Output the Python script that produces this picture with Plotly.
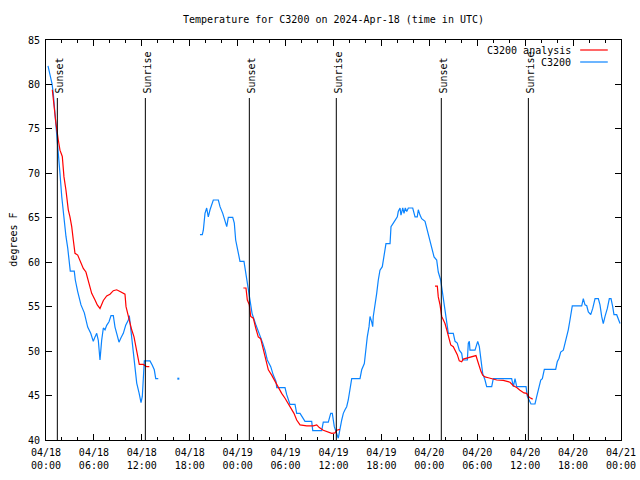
import plotly.graph_objects as go

# ---- data (hours since 2024-04-18 00:00 UTC) ----
obs1_t = [0.25,0.50,0.75,0.91,1.13,1.34,1.54,1.75,1.97,2.17,
          2.38,2.50,2.72,2.92,3.04,3.54,3.67,3.97,4.38,4.80,
          5.22,5.60,5.92,6.14,6.35,6.55,6.76,6.97,7.18,7.39,
          7.60,7.89,8.14,8.43,8.64,8.85,9.14,9.39,9.68,9.98,
          10.31,10.43,10.61,10.86,11.14,11.36,11.65,11.90,12.06,12.18,
          12.31,12.61,13.02,13.31,13.56,13.74,14.06]
obs1_v = [82.1,81.25,80.1,79.0,76.75,74.9,72.6,70.0,67.4,65.5,
          63.6,62.9,61.6,60.3,59.0,59.0,58.0,56.7,55.2,54.3,
          52.7,52.0,51.1,51.6,52.0,51.2,49.0,51.2,52.6,52.4,
          52.9,53.3,54.0,54.0,52.7,52.0,51.0,51.5,52.0,52.9,
          53.5,54.0,52.4,50.1,48.2,46.4,45.3,44.2,44.9,47.9,
          48.9,48.9,48.9,48.4,47.9,46.9,46.9]

obs_dot_t = [16.57]
obs_dot_v = [46.9]

obs2_t = [19.28,19.57,19.70,19.91,20.12,20.32,20.54,20.75,20.95,21.58,
          21.79,22.13,22.41,22.63,22.83,23.38,23.58,23.75,24.00,24.29,
          24.79,25.01,25.26,25.54,25.80,26.30,26.71,27.14,27.42,27.71,
          28.14,28.46,28.80,28.89,29.93,30.14,30.55,31.18,31.39,31.81,
          32.43,33.27,33.40,34.52,34.72,35.35,35.65,35.85,36.10,36.40,
          36.60,37.03,37.23,37.44,37.65,37.85,38.07,38.28,39.32,39.53,
          39.86,40.07,40.23,40.45,40.57,40.78,40.91,40.98,41.20,41.41,
          41.61,41.82,42.11,42.24,42.36,42.57,43.08,43.20,43.49,43.79,
          43.99,44.11,44.33,44.45,44.67,44.83,44.99,45.17,45.37,45.92,
          46.08,46.21,46.49,46.62,46.83,47.04,47.46,47.67,47.87,48.08,
          48.30,48.59,48.92,49.12,49.42,49.59,49.75,49.96,50.18,50.38,
          51.00,51.22,51.50,51.75,52.05,52.18,52.76,52.88,53.01,53.09,
          53.72,53.93,54.06,54.26,54.47,54.68,54.97,55.18,55.81,56.01,
          58.31,58.52,58.73,58.94,60.11,60.27,60.73,61.23,61.45,61.64,
          61.95,62.15,62.40,63.82,64.02,64.24,64.45,64.78,64.99,65.20,
          65.40,65.61,65.74,65.90,67.08,67.28,67.49,67.71,67.91,68.21,
          68.46,68.75,69.16,69.37,69.58,69.78,70.00,70.29,70.54,70.75,
          70.96,71.12,71.46,71.66,71.88]
obs2_v = [63.1,63.1,63.6,65.5,66.1,65.1,65.9,66.4,67.0,67.0,
          66.25,65.5,64.6,64.0,65.05,65.05,64.4,62.5,61.4,60.1,
          60.1,58.75,57.25,55.75,54.25,52.9,52.0,50.9,50.1,49.0,
          48.25,47.3,46.6,45.9,45.9,45.1,44.0,44.0,43.0,43.0,
          42.1,42.1,41.05,41.05,42.0,42.0,43.0,43.0,41.5,40.75,
          40.2,42.25,43.0,43.4,43.75,44.5,45.6,46.9,46.9,47.9,
          48.6,50.5,51.6,52.75,53.9,53.3,52.75,53.9,55.0,56.5,
          58.0,59.1,59.5,60.25,61.4,62.1,62.1,64.0,64.4,64.75,
          65.1,65.7,66.1,65.3,66.1,65.5,66.1,65.7,66.1,66.1,
          65.5,65.1,65.1,65.9,65.3,64.9,64.6,63.8,63.1,62.3,
          61.75,60.6,60.25,58.9,58.0,56.9,55.75,54.8,53.5,52.0,
          52.0,51.1,50.9,50.1,49.75,49.0,49.0,50.9,51.1,50.1,
          50.1,50.95,51.1,50.5,49.0,47.5,46.75,46.0,46.0,46.9,
          46.9,46.0,46.9,46.0,46.0,44.9,44.05,44.05,44.9,45.6,
          46.75,46.9,47.95,47.95,48.8,49.2,49.9,50.1,50.9,51.4,
          52.4,53.5,54.4,55.1,55.1,55.9,55.2,55.1,54.4,54.1,
          54.8,55.9,55.9,55.2,53.9,53.1,53.9,54.8,55.9,55.9,
          55.0,54.1,54.1,53.5,53.1]

ana1_t = [0.79,1.00,1.25,1.54,1.75,2.04,2.25,2.50,2.79,3.00,
          3.22,3.42,3.63,3.97,4.26,4.67,5.00,5.38,5.72,6.14,
          6.42,6.76,7.18,7.60,8.01,8.43,8.85,9.27,9.89,10.02,
          10.23,10.43,10.73,11.02,11.23,11.43,11.68,12.18,12.61,12.94]
ana1_v = [79.4,77.5,75.6,73.75,72.6,71.9,69.6,68.1,65.9,65.1,
          64.0,62.5,61.0,60.8,60.1,59.3,58.9,57.7,56.5,55.75,
          55.2,54.8,55.7,56.2,56.4,56.8,56.9,56.7,56.4,55.0,
          54.25,53.3,52.4,51.6,50.5,49.4,48.5,48.5,48.25,48.25]

ana2_t = [24.71,25.04,25.21,25.46,25.63,25.96,26.26,26.58,26.88,27.21,
          27.55,27.84,28.26,28.68,29.09,29.51,29.93,30.34,30.77,31.05,
          31.39,31.81,32.64,33.47,33.90,34.22,34.72,35.35,35.78,36.19,
          36.40,36.81]
ana2_v = [57.1,57.1,55.75,55.2,53.9,53.7,52.6,51.6,51.4,50.1,
          49.0,47.9,47.3,46.6,46.0,45.25,44.7,44.1,43.4,43.0,
          42.25,41.7,41.6,41.6,41.7,41.4,41.1,40.9,40.75,40.8,
          41.1,41.2]

ana3_t = [48.71,49.00,49.12,49.34,49.55,49.75,49.96,50.18,50.38,50.68,
          51.00,51.22,51.50,51.75,52.05,52.25,52.68,53.09,53.51,53.84,
          54.01,54.26,54.47,54.68,54.97,55.38,56.44,57.26,57.69,58.10,
          58.52,58.94,59.35,59.85,60.19,60.39,60.61,60.94]
ana3_v = [57.3,57.3,56.1,55.2,53.9,53.5,53.1,52.4,51.6,50.7,
          50.5,50.1,49.6,48.9,48.8,49.1,49.2,49.3,49.4,49.5,
          49.0,48.25,47.7,47.3,47.1,47.0,46.75,46.7,46.6,46.5,
          46.1,45.9,45.6,45.3,45.25,44.9,44.75,44.6]

sun_t = [1.42, 12.44, 25.46, 36.35, 49.5, 60.4]
sun_lbl = ["Sunset", "Sunrise", "Sunset", "Sunrise", "Sunset", "Sunrise"]

x_tickvals = [0, 6, 12, 18, 24, 30, 36, 42, 48, 54, 60, 66, 72]
x_ticktext = ["04/18<br>00:00", "04/18<br>06:00", "04/18<br>12:00", "04/18<br>18:00",
              "04/19<br>00:00", "04/19<br>06:00", "04/19<br>12:00", "04/19<br>18:00",
              "04/20<br>00:00", "04/20<br>06:00", "04/20<br>12:00", "04/20<br>18:00",
              "04/21<br>00:00"]
y_tickvals = [40, 45, 50, 55, 60, 65, 70, 75, 80, 85]

RED = "#ff0000"
BLUE = "#0a84ff"
FONT = "DejaVu Sans Mono"

fig = go.Figure()

def join(segs):
    xs, ys = [], []
    for t, v in segs:
        xs += list(t) + [None]
        ys += list(v) + [None]
    return xs[:-1], ys[:-1]

bx, by = join([(obs1_t, obs1_v), (obs2_t, obs2_v)])
rx, ry = join([(ana1_t, ana1_v), (ana2_t, ana2_v), (ana3_t, ana3_v)])

fig.add_trace(go.Scatter(x=bx, y=by, mode="lines", line=dict(color=BLUE, width=1.2),
                         name="C3200", showlegend=False, connectgaps=False, hoverinfo="skip"))
fig.add_trace(go.Scatter(x=obs_dot_t, y=obs_dot_v, mode="markers",
                         marker=dict(color=BLUE, size=2, symbol="square"),
                         showlegend=False, hoverinfo="skip"))
fig.add_trace(go.Scatter(x=rx, y=ry, mode="lines", line=dict(color=RED, width=1.2),
                         name="C3200 analysis", showlegend=False, connectgaps=False,
                         hoverinfo="skip"))

shapes = []
annotations = []
for t, lbl in zip(sun_t, sun_lbl):
    shapes.append(dict(type="line", xref="x", yref="paper", x0=t, x1=t, y0=0, y1=0.855,
                       line=dict(color="black", width=1)))
    annotations.append(dict(x=t, y=0.862, xref="x", yref="paper", text=lbl, showarrow=False,
                            textangle=-90, xanchor="center", yanchor="bottom", xshift=2,
                            font=dict(family=FONT, size=10, color="black")))

# manual legend (gnuplot style: text then sample line)
leg = [("C3200 analysis", RED, 0.975), ("C3200", BLUE, 0.945)]
for txt, col, yp in leg:
    annotations.append(dict(x=0.917, y=yp, xref="paper", yref="paper", text=txt,
                            showarrow=False, xanchor="right", yanchor="middle",
                            font=dict(family=FONT, size=10, color="black")))
    shapes.append(dict(type="line", xref="paper", yref="paper", x0=0.929, x1=0.977,
                       y0=yp, y1=yp, line=dict(color=col, width=1.2)))

annotations.append(dict(x=-0.058, y=0.5, xref="paper", yref="paper", text="degrees F",
                        showarrow=False, textangle=-90, xanchor="center", yanchor="middle",
                        font=dict(family=FONT, size=10, color="black")))

fig.update_layout(
    width=640, height=480,
    margin=dict(l=46, r=19, t=40, b=40, pad=0, autoexpand=False),
    paper_bgcolor="white", plot_bgcolor="white",
    font=dict(family=FONT, size=10, color="black"),
    title=dict(text="Temperature for C3200 on 2024-Apr-18 (time in UTC)",
               x=0.5, xref="paper", xanchor="center", y=1 - 19 / 480, yanchor="middle",
               font=dict(family=FONT, size=10, color="black")),
    shapes=shapes, annotations=annotations, showlegend=False, hovermode=False,
)
fig.update_xaxes(range=[0, 72], tickmode="array", tickvals=x_tickvals, ticktext=x_ticktext,
                 ticks="inside", ticklen=6, tickcolor="black", showline=True, linecolor="black",
                 linewidth=1, mirror="ticks", showgrid=False, zeroline=False, automargin=False,
                 ticklabelstandoff=3,
                 minor=dict(dtick=2, tick0=0, ticks="inside", ticklen=3, tickcolor="black", showgrid=False),
                 tickfont=dict(family=FONT, size=10))
fig.update_yaxes(range=[40, 85], tickmode="array", tickvals=y_tickvals,
                 ticks="inside", ticklen=6, tickcolor="black", showline=True, linecolor="black",
                 linewidth=1, mirror="ticks", showgrid=False, zeroline=False, automargin=False,
                 ticklabelstandoff=3,
                 tickfont=dict(family=FONT, size=10))

js = ("document.body.style.margin='0';document.body.style.padding='0';"
      "document.body.style.overflow='hidden';")
fig.write_html("out.html", config={"displayModeBar": False}, post_script=js)
